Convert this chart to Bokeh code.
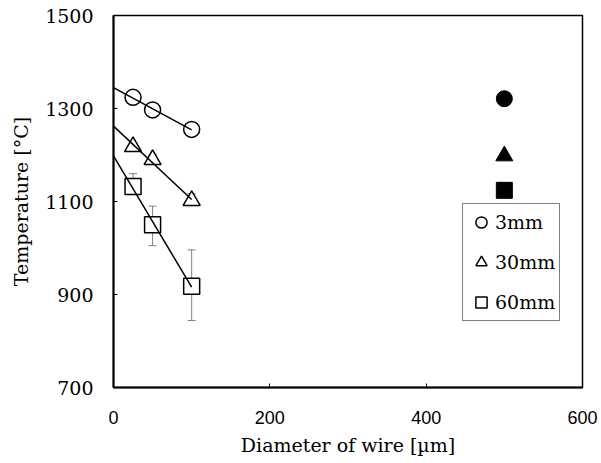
import numpy as np
from bokeh.plotting import figure
from bokeh.models import (ColumnDataSource, Whisker, TeeHead, Legend, LegendItem,
                          Range1d, FixedTicker)
from bokeh.embed import file_html
from bokeh.resources import INLINE

# ---- data ----
diameter = [25, 50, 100]
temp_3mm = [1324, 1297, 1255]
temp_30mm = [1218, 1190, 1102]
temp_60mm = [1132, 1050, 918]

err_3mm_upper = [1330, 1303, 1261]
err_3mm_lower = [1318, 1291, 1249]
err_30mm_upper = [1224, 1201, 1117]
err_30mm_lower = [1212, 1183, 1095]
err_60mm_upper = [1160, 1090, 996]
err_60mm_lower = [1115, 1005, 844]

ref_diameter = [500]
ref_3mm = [1321]
ref_30mm = [1198]
ref_60mm = [1124]

x_ticks = [0, 200, 400, 600]
y_ticks = [700, 900, 1100, 1300, 1500]
fit_x = [0, 100]

SERIF = "DejaVu Serif"
SANS = "Liberation Sans"
GRAY = "#808080"

p = figure(width=601, height=463, output_backend="svg", toolbar_location=None,
           x_range=Range1d(0, 600), y_range=Range1d(700, 1500),
           min_border_left=113, min_border_right=19, min_border_top=15,
           min_border_bottom=76)
p.background_fill_color = "white"
p.border_fill_color = "white"
p.outline_line_color = "black"
p.outline_line_width = 1.5
p.xgrid.visible = False
p.ygrid.visible = False

for ax in (p.xaxis[0], p.yaxis[0]):
    ax.axis_line_width = 2
    ax.axis_line_color = "black"
    ax.major_tick_in = 4
    ax.major_tick_out = 0
    ax.minor_tick_line_color = None
    ax.major_tick_line_color = "black"
    ax.major_tick_line_width = 1

p.xaxis.ticker = FixedTicker(ticks=x_ticks)
p.yaxis.ticker = FixedTicker(ticks=y_ticks)
p.xaxis.axis_label = "Diameter of wire [µm]"
p.yaxis.axis_label = "Temperature [°C]"
p.xaxis.major_label_text_font = SANS
p.xaxis.major_label_text_font_size = "18px"
p.xaxis.major_label_text_color = "black"
p.xaxis.major_label_standoff = 23
p.yaxis.major_label_text_font = SERIF
p.yaxis.major_label_text_font_size = "19px"
p.yaxis.major_label_text_color = "black"
p.yaxis.major_label_standoff = 20
for ax in (p.xaxis[0], p.yaxis[0]):
    ax.axis_label_text_font = SERIF
    ax.axis_label_text_font_size = "19px"
    ax.axis_label_text_font_style = "normal"
    ax.axis_label_text_color = "black"
p.xaxis.axis_label_standoff = 7
p.yaxis.axis_label_standoff = 10

# ---- error bars (behind markers) ----
series = [
    (temp_3mm, err_3mm_lower, err_3mm_upper),
    (temp_30mm, err_30mm_lower, err_30mm_upper),
    (temp_60mm, err_60mm_lower, err_60mm_upper),
]
for vals, lo, up in series:
    src = ColumnDataSource(dict(x=diameter, lower=lo, upper=up))
    w = Whisker(source=src, base="x", lower="lower", upper="upper",
                line_color=GRAY, line_width=1,
                upper_head=TeeHead(size=8, line_color=GRAY, line_width=1),
                lower_head=TeeHead(size=8, line_color=GRAY, line_width=1))
    p.add_layout(w)

# ---- markers ----
r_c = p.scatter(diameter, temp_3mm, marker="circle", size=16, fill_color="white",
                line_color="black", line_width=1.5)
r_t = p.scatter(diameter, temp_30mm, marker="triangle", size=17, fill_color="white",
                line_color="black", line_width=1.5)
r_s = p.scatter(diameter, temp_60mm, marker="square", size=16, fill_color="white",
                line_color="black", line_width=1.5)

# ---- linear trend lines (least squares fit of each series) ----
for vals in (temp_3mm, temp_30mm, temp_60mm):
    k, b = np.polyfit(diameter, vals, 1)
    p.line(fit_x, [b + k * x for x in fit_x], line_color="black", line_width=1.5)

# ---- filled reference markers ----
p.scatter(ref_diameter, ref_3mm, marker="circle", size=16, fill_color="black",
          line_color="black")
p.scatter(ref_diameter, ref_30mm, marker="triangle", size=17, fill_color="black",
          line_color="black")
p.scatter(ref_diameter, ref_60mm, marker="square", size=16, fill_color="black",
          line_color="black")

# ---- legend ----
legend = Legend(items=[LegendItem(label="3mm", renderers=[r_c]),
                       LegendItem(label="30mm", renderers=[r_t]),
                       LegendItem(label="60mm", renderers=[r_s])],
                location=(349, 66))
legend.glyph_width = 28
legend.glyph_height = 28
legend.label_standoff = 0
legend.padding = 4
legend.spacing = 12
legend.margin = 0
legend.label_text_font = SERIF
legend.label_text_font_size = "19px"
legend.label_text_color = "black"
legend.border_line_color = "black"
legend.border_line_width = 1
legend.background_fill_color = "white"
legend.background_fill_alpha = 1
p.add_layout(legend)

open("out.html", "w").write(file_html(p, INLINE))
